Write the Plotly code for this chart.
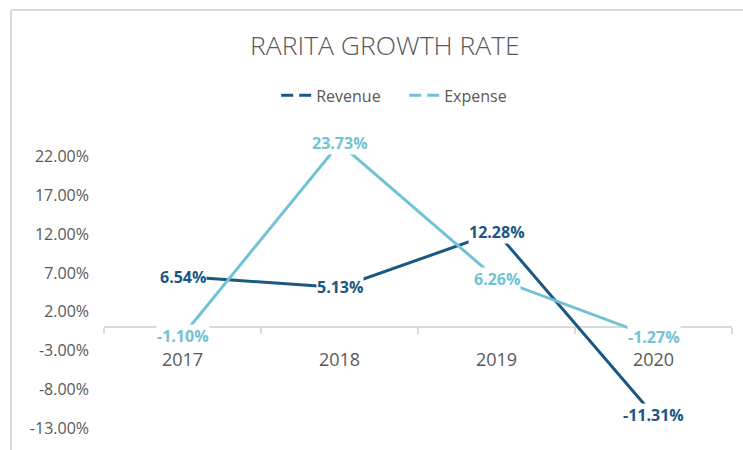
import plotly.graph_objects as go

# Year-over-year growth rates (percent)
years = ["2017", "2018", "2019", "2020"]
revenue = [6.54, 5.13, 12.28, -11.31]
expense = [-1.10, 23.73, 6.26, -1.27]
y_ticks = [-13, -8, -3, 2, 7, 12, 17, 22]
y_tick_text = [f"{v:.2f}%" for v in y_ticks]

REV_COLOR = "#1A5783"
EXP_COLOR = "#71C2D5"
TEXT_GRAY = "#595959"
AXIS_GRAY = "#D9D9D9"
FONT = "Open Sans"

fig = go.Figure()

# Series lines (solid); legend entries are drawn with dashed keys below
for name, vals, color in [("Revenue", revenue, REV_COLOR), ("Expense", expense, EXP_COLOR)]:
    fig.add_trace(go.Scatter(
        x=years, y=vals, mode="lines", name=name,
        line=dict(color=color, width=3), showlegend=False,
        hoverinfo="skip",
    ))

for name, color in [("Revenue", REV_COLOR), ("Expense", EXP_COLOR)]:
    fig.add_trace(go.Scatter(
        x=[None], y=[None], mode="lines", name=name,
        line=dict(color=color, width=3, dash="12px,6px"),
    ))

# Data labels centred on each point, with a white box over the line
for vals, color in [(revenue, REV_COLOR), (expense, EXP_COLOR)]:
    for i, v in enumerate(vals):
        fig.add_annotation(
            x=i, y=v, xref="x", yref="y",
            text=f"<b>{v:.2f}%</b>", showarrow=False,
            xanchor="center", yanchor="middle",
            font=dict(family=FONT, size=16, color=color),
            bgcolor="white", borderpad=0,
        )

# Chart-area border (left and top edges)
fig.add_shape(type="line", xref="paper", yref="paper",
              x0=-0.148, x1=-0.148, y0=1.348, y1=-0.1,
              line=dict(color=AXIS_GRAY, width=2))
fig.add_shape(type="line", xref="paper", yref="paper",
              x0=-0.148, x1=1.1, y0=1.348, y1=1.348,
              line=dict(color=AXIS_GRAY, width=2))

fig.update_layout(
    width=743, height=450,
    margin=dict(l=104, r=11, t=118, b=16),
    paper_bgcolor="white", plot_bgcolor="white",
    font=dict(family=FONT, color=TEXT_GRAY),
    title=dict(text="RARITA GROWTH RATE", x=0.518, xanchor="center",
               y=0.898, yanchor="middle",
               font=dict(family=FONT, size=26.5, color=TEXT_GRAY, weight=300)),
    legend=dict(orientation="h", x=0.478, xanchor="center",
                y=1.073, yanchor="middle",
                font=dict(family=FONT, size=16, color=TEXT_GRAY),
                itemwidth=30, entrywidth=83, bgcolor="rgba(0,0,0,0)"),
    xaxis=dict(type="category", range=[-0.5, 3.5],
               anchor="free", position=13 / 40,
               showline=True, linecolor=AXIS_GRAY, linewidth=2,
               ticks="outside", tickson="boundaries", ticklen=6,
               tickcolor=AXIS_GRAY, tickwidth=2,
               tickfont=dict(family=FONT, size=18, color=TEXT_GRAY),
               ticklabelstandoff=16,
               showgrid=False, zeroline=False, layer="below traces"),
    yaxis=dict(range=[-13, 27], tickmode="array",
               tickvals=y_ticks, ticktext=y_tick_text,
               tickfont=dict(family=FONT, size=16, color=TEXT_GRAY),
               showgrid=False, zeroline=False, showline=False,
               ticklabelstandoff=14),
)

fig.write_html("out.html")
